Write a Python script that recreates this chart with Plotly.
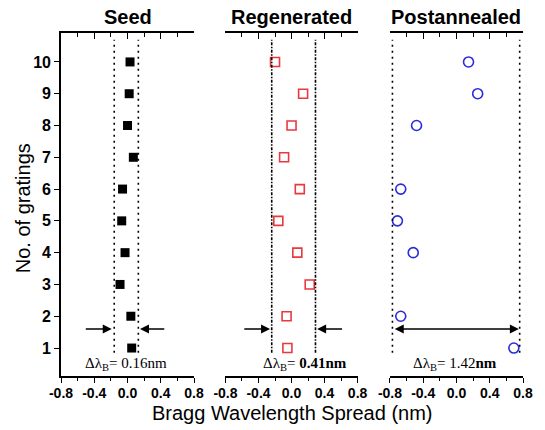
import plotly.graph_objects as go

# ---------------- data ----------------
gratings = [1, 2, 3, 4, 5, 6, 7, 8, 9, 10]
seed_spread = [0.05, 0.04, -0.09, -0.03, -0.07, -0.06, 0.07, 0.00, 0.02, 0.03]
regen_spread = [-0.05, -0.06, 0.22, 0.07, -0.16, 0.10, -0.09, 0.00, 0.14, -0.20]
post_gratings = [1, 2, 4, 5, 6, 8, 9, 10]
post_spread = [0.69, -0.67, -0.52, -0.71, -0.67, -0.48, 0.255, 0.145]

seed_bounds = [-0.16, 0.13]
regen_bounds = [-0.24, 0.29]
post_bounds = [-0.77, 0.76]
bound_y = [0.85, 10.7]

panel_titles = ["Seed", "Regenerated", "Postannealed"]
spread_labels = ["0.16nm", "<b>0.41nm</b>", "1.42<b>nm</b>"]
x_ticks = [-0.8, -0.4, 0.0, 0.4, 0.8]
x_tick_text = ["-0.8", "-0.4", "0.0", "0.4", "0.8"]
y_ticks = gratings

XR = [-0.8, 0.8]
YR = [0.12, 10.91]

fig = go.Figure()

# markers
fig.add_trace(go.Scatter(x=seed_spread, y=gratings, mode="markers",
                         marker=dict(symbol="square", size=9, color="black"),
                         xaxis="x", yaxis="y", showlegend=False))
fig.add_trace(go.Scatter(x=regen_spread, y=gratings, mode="markers",
                         marker=dict(symbol="square-open", size=9, color="#e8393f",
                                     line=dict(width=1.6)),
                         xaxis="x2", yaxis="y2", showlegend=False))
fig.add_trace(go.Scatter(x=post_spread, y=post_gratings, mode="markers",
                         marker=dict(symbol="circle-open", size=10, color="#2b2bd9",
                                     line=dict(width=1.6)),
                         xaxis="x3", yaxis="y3", showlegend=False))

# vertical bound lines
for bounds, xa, ya, dash in [(seed_bounds, "x", "y", "2px,4px"),
                             (regen_bounds, "x2", "y2", "3px,1.5px,1.5px,1.5px"),
                             (post_bounds, "x3", "y3", "2px,4px")]:
    for b in bounds:
        fig.add_trace(go.Scatter(x=[b, b], y=bound_y, mode="lines",
                                 line=dict(color="black", width=1.6, dash=dash),
                                 xaxis=xa, yaxis=ya, showlegend=False,
                                 hoverinfo="skip"))

# dummy traces for top overlay axes
for xa, ya in [("x4", "y"), ("x5", "y2"), ("x6", "y3")]:
    fig.add_trace(go.Scatter(x=[None], y=[None], xaxis=xa, yaxis=ya,
                             showlegend=False, hoverinfo="skip"))

domains = [[0.0, 0.288], [0.356, 0.642], [0.712, 1.0]]
tickfont = dict(family="Liberation Sans, Arial", size=14, color="black", weight="bold")

layout = dict(
    width=545, height=430,
    margin=dict(l=61, r=12, t=33, b=54),
    plot_bgcolor="white", paper_bgcolor="white",
)

for i in range(3):
    sfx = "" if i == 0 else str(i + 1)
    layout["xaxis" + sfx] = dict(
        domain=domains[i], range=XR, anchor="y" + sfx,
        showline=True, linecolor="black", linewidth=1.6,
        ticks="outside", ticklen=5, tickwidth=1.4, tickcolor="black",
        tickvals=x_ticks, ticktext=x_tick_text, tickfont=tickfont,
        ticklabelstandoff=-2,
        minor=dict(dtick=0.2, tick0=0, ticks="outside", ticklen=3,
                   tickwidth=1.4, tickcolor="black", showgrid=False),
        showgrid=False, zeroline=False, mirror=False,
    )
    layout["xaxis" + str(i + 4)] = dict(
        range=XR, overlaying="x" + sfx, anchor="y" + sfx, side="top",
        showline=True, linecolor="black", linewidth=1.6,
        ticks="inside", ticklen=6, tickwidth=1.4, tickcolor="black",
        tickvals=x_ticks, showticklabels=False,
        minor=dict(dtick=0.2, tick0=0, ticks="inside", ticklen=4,
                   tickwidth=1.4, tickcolor="black", showgrid=False),
        showgrid=False, zeroline=False,
    )
    if i == 0:
        layout["yaxis"] = dict(
            domain=[0, 1], range=YR, anchor="x",
            showline=True, linecolor="black", linewidth=1.6,
            ticks="outside", ticklen=5, tickwidth=1.4, tickcolor="black",
            tickvals=y_ticks, tickfont=dict(family="Liberation Sans, Arial", size=16,
                                            color="black", weight="bold"),
            showgrid=False, zeroline=False,
        )
    else:
        layout["yaxis" + sfx] = dict(
            domain=[0, 1], range=YR, anchor="x" + sfx,
            showline=False, showticklabels=False, ticks="",
            showgrid=False, zeroline=False,
        )

fig.update_layout(**layout)

# arrows
arrow_kw = dict(showarrow=True, text="", arrowhead=2, arrowsize=1.2,
                arrowwidth=1.5, arrowcolor="black")
arrow_y = 1.6
fig.add_annotation(x=-0.19, y=arrow_y, ax=-0.52, ay=arrow_y, xref="x", yref="y",
                   axref="x", ayref="y", **arrow_kw)
fig.add_annotation(x=0.15, y=arrow_y, ax=0.46, ay=arrow_y, xref="x", yref="y",
                   axref="x", ayref="y", **arrow_kw)
fig.add_annotation(x=-0.26, y=arrow_y, ax=-0.59, ay=arrow_y, xref="x2", yref="y2",
                   axref="x2", ayref="y2", **arrow_kw)
fig.add_annotation(x=0.31, y=arrow_y, ax=0.63, ay=arrow_y, xref="x2", yref="y2",
                   axref="x2", ayref="y2", **arrow_kw)
fig.add_annotation(x=0.75, y=arrow_y, ax=-0.76, ay=arrow_y, xref="x3", yref="y3",
                   axref="x3", ayref="y3", arrowside="end+start", **arrow_kw)

# delta lambda labels
label_x = [-0.02, 0.16, -0.02]
for i in range(3):
    sfx = "" if i == 0 else str(i + 1)
    fig.add_annotation(x=label_x[i], y=0.5, xref="x" + sfx, yref="y" + sfx,
                       text="Δλ<sub>B</sub>= " + spread_labels[i], showarrow=False,
                       xanchor="center",
                       font=dict(family="Liberation Serif, Times New Roman", size=15,
                                 color="black"))
    # panel titles
    fig.add_annotation(x=sum(domains[i]) / 2, y=1.047, xref="paper", yref="paper",
                       text="<b>" + panel_titles[i] + "</b>", showarrow=False,
                       xanchor="center", yanchor="middle",
                       font=dict(family="Liberation Sans, Arial", size=20, color="black"))

fig.add_annotation(x=0.5, y=-0.107, xref="paper", yref="paper",
                   text="Bragg Wavelength Spread (nm)", showarrow=False,
                   xanchor="center", yanchor="middle",
                   font=dict(family="Liberation Sans, Arial", size=20, color="black"))
fig.add_annotation(x=-0.083, y=0.488, xref="paper", yref="paper",
                   text="No. of gratings", showarrow=False, textangle=-90,
                   xanchor="center", yanchor="middle",
                   font=dict(family="Liberation Sans, Arial", size=20, color="black"))

fig.write_html("out.html")
